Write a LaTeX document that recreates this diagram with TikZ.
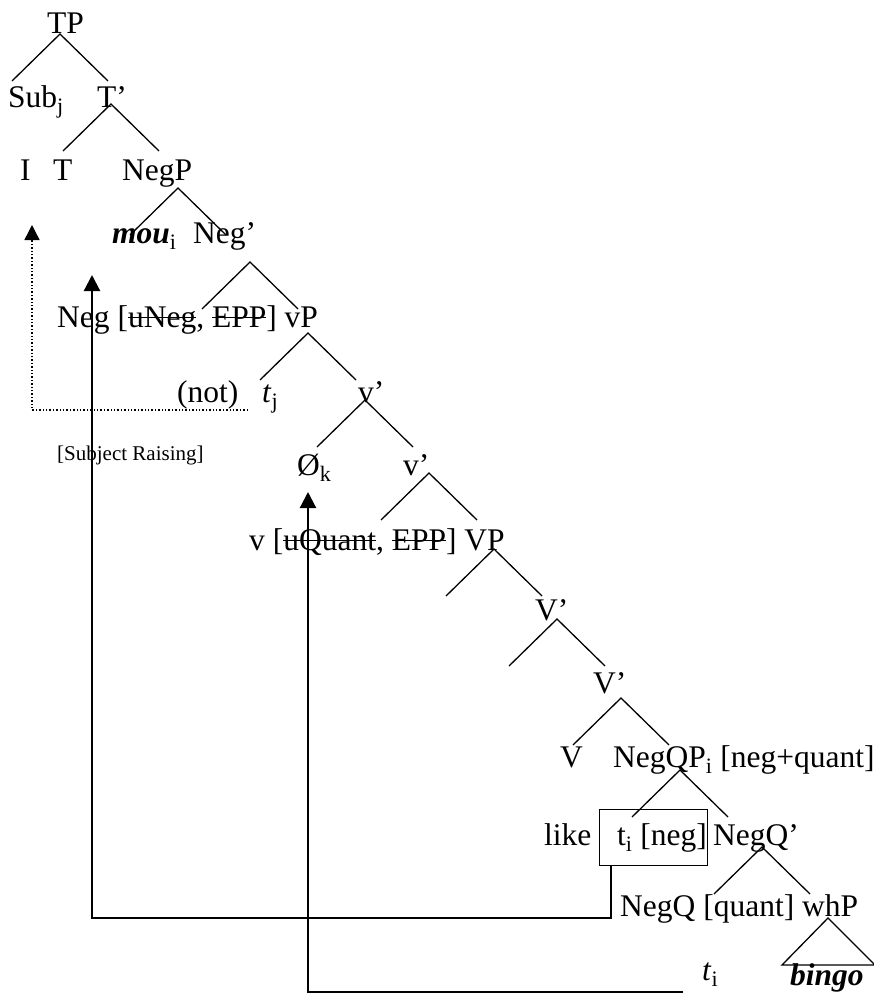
\documentclass[tikz,border=0pt]{standalone}
\usepackage{fontspec}
\setmainfont{Liberation Serif}
\usetikzlibrary{arrows.meta}

% struck-out feature
\newcommand{\crossed}[1]{\setbox0\hbox{#1}\rlap{\rule[0.28em]{\wd0}{1.3pt}}\box0}
% two branches hanging from one point
\newcommand{\fork}[1]{\draw[branch] (#1) ++(-48,47) -- (#1) -- ++(48,47);}

\begin{document}
\begin{tikzpicture}[x=1pt, y=-1pt,
		every node/.style={inner sep=0, anchor=base west, font=\fontsize{31.5}{38}\selectfont},
		branch/.style={line width=1.3pt},
		move/.style={line width=2.2pt, -{Triangle[length=16pt,width=16pt]}},
		raise/.style={line width=1.4pt, dotted, -{Triangle[length=15pt,width=15pt]}}]
		\useasboundingbox (0,0) rectangle (874,993);

		% labels
		\node (tp) at (47,33) {TP};
		\node (sub) at (8,107) {Sub\textsubscript{j}};
		\node (tbar) at (97,107) {T’};
		\node (i) at (20,180) {I};
		\node (t) at (53,180) {T};
		\node (negp) at (122,180) {NegP};
		\node (mou) at (112,243) {\textbf{\textit{mou}}\textsubscript{i}};
		\node (negbar) at (193,243) {Neg’};
		\node (neg) at (57,327) {Neg [\crossed{uNeg}, \crossed{EPP}] vP};
		\node (not) at (177,402) {(not)};
		\node (tj) at (262,402) {\textit{t}\textsubscript{j}};
		\node (vbar) at (358,402) {v’};
		\node[font=\fontsize{21}{25}\selectfont] (subj) at (57,460) {[Subject Raising]};
		\node (empty) at (297,475) {Ø\textsubscript{k}};
		\node (vbarb) at (403,475) {v’};
		\node (v) at (249,550) {v [\crossed{uQuant}, \crossed{EPP}] VP};
		\node (vbarc) at (535,620) {V’};
		\node (vbard) at (593,693) {V’};
		\node (vv) at (560,767) {V};
		\node (negqp) at (613,767) {NegQP\textsubscript{i} [neg+quant]};
		\node (like) at (544,845) {like};
		\node (ti) at (617,845) {t\textsubscript{i} [neg]};
		\node (negqbar) at (713,845) {NegQ’};
		\node (negq) at (620,916) {NegQ [quant] whP};
		\node (tib) at (702,980) {\textit{t}\textsubscript{i}};
		\node (bingo) at (790,985) {\textbf{\textit{bingo}}};
		\node[draw, line width=1.2pt, anchor=north west, minimum width=108, minimum height=56] (box) at (599,809) {};

		% branches
		\coordinate (tp-f) at (60,34);
		\coordinate (tbar-f) at (111,104);
		\coordinate (negp-f) at (178,188);
		\coordinate (negbar-f) at (250,262);
		\coordinate (vp-f) at (308,333);
		\coordinate (vbar-f) at (365,400);
		\coordinate (vbarb-f) at (429,473);
		\coordinate (vpb-f) at (494,549);
		\coordinate (vbarc-f) at (557,619);
		\coordinate (vbard-f) at (621,698);
		\coordinate (negqp-f) at (680,770);
		\coordinate (negqbar-f) at (762,847);
		\coordinate (whp-f) at (828,918);
		\fork{tp-f} \fork{tbar-f} \fork{negp-f} \fork{negbar-f}
		\fork{vp-f} \fork{vbar-f} \fork{vbarb-f} \fork{vpb-f}
		\fork{vbarc-f} \fork{vbard-f} \fork{negqp-f} \fork{negqbar-f}
		\draw[branch] (whp-f) -- ++(-46,47) -- ++(93,0) -- cycle;

		% movement
		\coordinate (raise-tip) at (32,225);
		\coordinate (bend) at (92,918);
		\coordinate (neg-tip) at (92,275);
		\coordinate (quant-tip) at (308,492);
		\draw[raise] ([xshift=-14pt,yshift=-8pt]tj.base west) -| (raise-tip);
		\draw[move] ([xshift=12pt]box.south west) |- (bend) -- (neg-tip);
		\draw[move] ([xshift=-19pt,yshift=-12pt]tib.base west) -| (quant-tip);
	\end{tikzpicture}
\end{document}
